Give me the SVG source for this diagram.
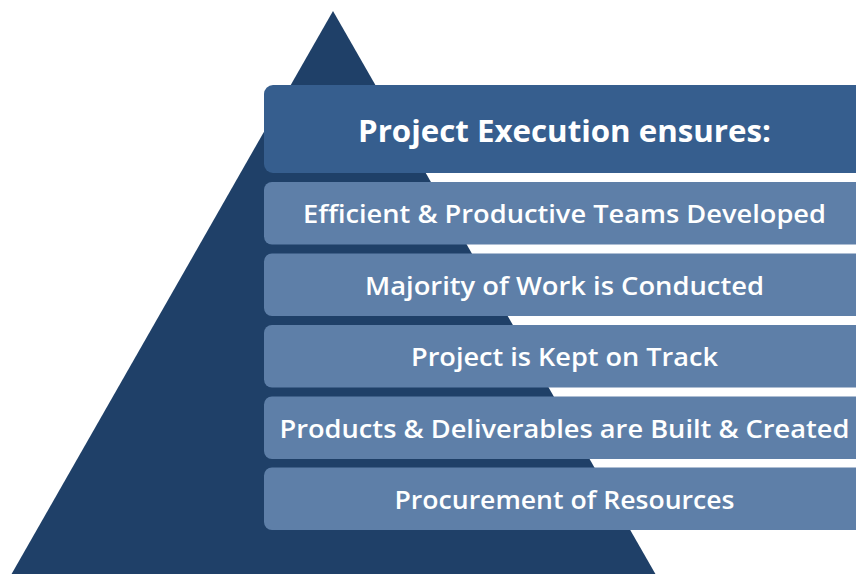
<svg xmlns="http://www.w3.org/2000/svg" width="856" height="574" viewBox="0 0 856 574">
<style>
.bar{fill:#5E7FA8}
.top{fill:#365E8E}
.t{font-family:"Open Sans",Lato,"Liberation Sans",sans-serif;font-weight:600;fill:#ffffff;text-anchor:middle;font-size:26px}
</style>
<rect width="856" height="574" fill="#ffffff"/>
<g id="pyramid"><polygon points="333,11 656,575 11,575" fill="#1F4068"/></g>
<g id="title"><rect class="top" x="264" y="85" width="621" height="88" rx="9"/><text class="t" x="564.5" y="141.5" style="font-size:30px;font-weight:700" textLength="413" lengthAdjust="spacingAndGlyphs">Project Execution ensures:</text></g>
<g id="item1"><rect class="bar" x="264" y="182" width="621" height="62.5" rx="8"/><text class="t" x="564.5" y="223" textLength="523" lengthAdjust="spacingAndGlyphs">Efficient &amp; Productive Teams Developed</text></g>
<g id="item2"><rect class="bar" x="264" y="253.5" width="621" height="62.5" rx="8"/><text class="t" x="564.5" y="294.5" textLength="399" lengthAdjust="spacingAndGlyphs">Majority of Work is Conducted</text></g>
<g id="item3"><rect class="bar" x="264" y="325" width="621" height="62.5" rx="8"/><text class="t" x="564.5" y="366" textLength="307" lengthAdjust="spacingAndGlyphs">Project is Kept on Track</text></g>
<g id="item4"><rect class="bar" x="264" y="396.5" width="621" height="62.5" rx="8"/><text class="t" x="564.5" y="437.5" textLength="570" lengthAdjust="spacingAndGlyphs">Products &amp; Deliverables are Built &amp; Created</text></g>
<g id="item5"><rect class="bar" x="264" y="467.5" width="621" height="62.5" rx="8"/><text class="t" x="564.5" y="509" textLength="340" lengthAdjust="spacingAndGlyphs">Procurement of Resources</text></g>
<g id="connectors"></g>
</svg>
